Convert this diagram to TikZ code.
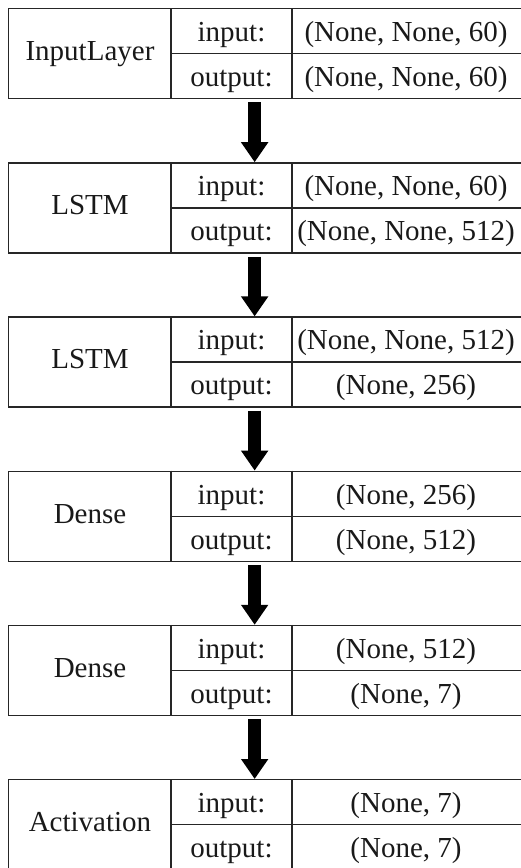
\documentclass[tikz,border=0pt]{standalone}
\usepackage{fontspec}
\setmainfont{Liberation Serif}
\usetikzlibrary{arrows.meta,calc}
\tikzset{
  layerbox/.style={draw=black!85, line width=1.3pt, minimum width=514pt, minimum height=90pt, anchor=north west, inner sep=0pt},
  rule/.style={draw=black!85, line width=1.3pt},
  cell/.style={font=\fontsize{29}{31}\selectfont, inner sep=0pt, anchor=base, text=black!90},
  arr/.style={line width=13pt, draw=black, -{Triangle[width=26pt,length=20pt]}}
}
\newcommand\mylayer[5]{%
  \node[layerbox] (#1) at (8,#2) {};
  \draw[rule] ($(#1.north west)+(163,0)$) -- ($(#1.south west)+(163,0)$);
  \draw[rule] ($(#1.north west)+(284,0)$) -- ($(#1.south west)+(284,0)$);
  \draw[rule] ($(#1.west)+(163,0)$) -- (#1.east);
  \node[cell] (#1n) at ($(#1.north west)+(82,52.5)$) {#3};
  \node[cell] (#1i) at ($(#1.north west)+(223.5,33.5)$) {input:};
  \node[cell] (#1o) at ($(#1.north west)+(223.5,78.5)$) {output:};
  \node[cell] (#1iv) at ($(#1.north west)+(398,33.5)$) {#4};
  \node[cell] (#1ov) at ($(#1.north west)+(398,78.5)$) {#5};
}
\begin{document}
\begin{tikzpicture}[x=1pt,y=-1pt]
\useasboundingbox[fill=white] (0,0) rectangle (521,868);
\mylayer{L1}{8}{InputLayer}{(None, None, 60)}{(None, None, 60)}
\mylayer{L2}{162.2}{LSTM}{(None, None, 60)}{(None, None, 512)}
\mylayer{L3}{316.4}{LSTM}{(None, None, 512)}{(None, 256)}
\mylayer{L4}{470.6}{Dense}{(None, 256)}{(None, 512)}
\mylayer{L5}{624.8}{Dense}{(None, 512)}{(None, 7)}
\mylayer{L6}{779}{Activation}{(None, 7)}{(None, 7)}
\foreach \a/\b in {L1/L2,L2/L3,L3/L4,L4/L5,L5/L6}{
  \draw[arr] ([xshift=-11pt,yshift=-3pt]\a.south) -- ([xshift=-11pt]\b.north);
}
\end{tikzpicture}
\end{document}
